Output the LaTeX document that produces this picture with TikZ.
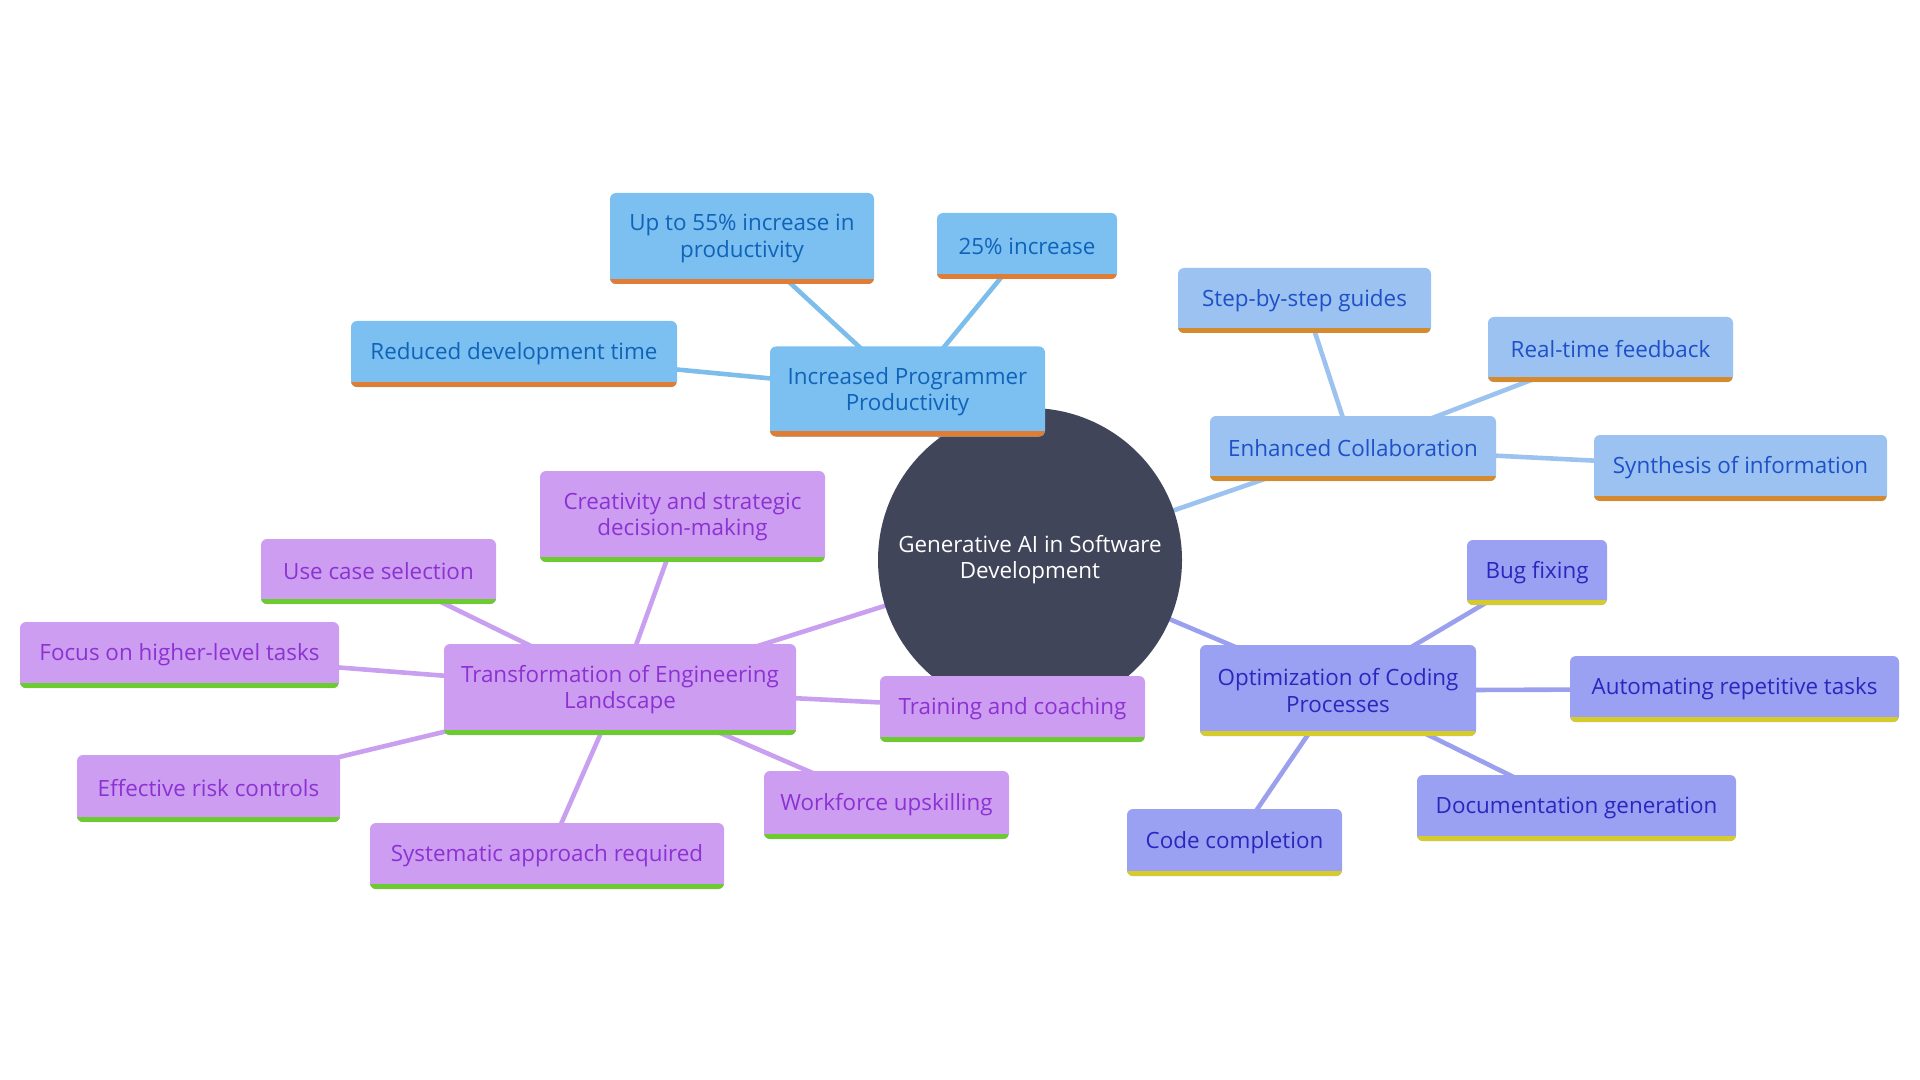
\documentclass[tikz,border=0pt]{standalone}
\usepackage{fontspec}
\setmainfont{Open Sans}
\usetikzlibrary{backgrounds}

\definecolor{rootcol}{HTML}{41455A}
\definecolor{prodfill}{HTML}{7CBFF1}
\definecolor{prodtext}{HTML}{0F63B8}
\definecolor{prodbar}{HTML}{E07D35}
\definecolor{prodline}{HTML}{7DBDEB}
\definecolor{collfill}{HTML}{9BC2F0}
\definecolor{colltext}{HTML}{1E50C8}
\definecolor{collbar}{HTML}{D58A2D}
\definecolor{collline}{HTML}{9CC3EF}
\definecolor{codefill}{HTML}{9AA0F2}
\definecolor{codetext}{HTML}{2828BE}
\definecolor{codebar}{HTML}{D5CB2A}
\definecolor{codeline}{HTML}{9BA0EE}
\definecolor{engfill}{HTML}{CD9DF2}
\definecolor{engtext}{HTML}{8C32D2}
\definecolor{engbar}{HTML}{6CCB2E}
\definecolor{engline}{HTML}{C99FF0}

\tikzset{
  mmbox/.style n args={3}{rectangle, rounded corners=3pt, fill=#1, text=#2, align=center, inner sep=0pt,
    font=\fontsize{11.2}{13.1}\selectfont,
    path picture={\fill[#3, sharp corners] ([yshift=2.6pt]path picture bounding box.south west) rectangle (path picture bounding box.south east);}},
  prodbox/.style={mmbox={prodfill}{prodtext}{prodbar}},
  collbox/.style={mmbox={collfill}{colltext}{collbar}},
  codebox/.style={mmbox={codefill}{codetext}{codebar}},
  engbox/.style={mmbox={engfill}{engtext}{engbar}},
  sz/.style 2 args={minimum width=#1*0.5pt, minimum height=#2*0.5pt},
  prodlink/.style={draw=prodline, line width=2.3pt},
  colllink/.style={draw=collline, line width=2.3pt},
  codelink/.style={draw=codeline, line width=2.3pt},
  englink/.style={draw=engline, line width=2.3pt},
}

\begin{document}
\begin{tikzpicture}[x=0.5pt, y=-0.5pt]
\useasboundingbox (0,0) rectangle (1920,1080);

% Root
\node[circle, fill=rootcol, text=white, align=center, minimum size=152pt, inner sep=0pt,
  font=\fontsize{11.2}{13.1}\selectfont] (root) at (1030,560) {Generative AI in Software\\Development};

% Increased Programmer Productivity
\node[prodbox, sz={275}{90}] (prod) at (907.5,391.5) {Increased Programmer\\Productivity};
\node[prodbox, sz={264}{91}] (prod55) at (742,238.5) {Up to 55\% increase in\\productivity};
\node[prodbox, sz={180}{66}] (prod25) at (1027,246) {25\% increase};
\node[prodbox, sz={326}{66}] (prodtime) at (514,354) {Reduced development time};

% Enhanced Collaboration
\node[collbox, sz={286}{65}] (coll) at (1353,448.5) {Enhanced Collaboration};
\node[collbox, sz={253}{65}] (collguide) at (1304.5,300.5) {Step-by-step guides};
\node[collbox, sz={245}{65}] (collfeed) at (1610.5,349.5) {Real-time feedback};
\node[collbox, sz={293}{66}] (collsynth) at (1740.5,468) {Synthesis of information};

% Optimization of Coding Processes
\node[codebox, sz={276}{91}] (code) at (1338,690.5) {Optimization of Coding\\Processes};
\node[codebox, sz={140}{65}] (codebug) at (1537,572.5) {Bug fixing};
\node[codebox, sz={329}{66}] (codeauto) at (1734.5,689) {Automating repetitive tasks};
\node[codebox, sz={319}{66}] (codedoc) at (1576.5,808) {Documentation generation};
\node[codebox, sz={215}{67}] (codecomp) at (1234.5,842.5) {Code completion};

% Transformation of Engineering Landscape
\node[engbox, sz={352}{91}] (eng) at (620,689.5) {Transformation of Engineering\\Landscape};
\node[engbox, sz={285}{91}] (engcreat) at (682.5,516.5) {Creativity and strategic\\decision-making};
\node[engbox, sz={235}{65}] (enguse) at (378.5,571.5) {Use case selection};
\node[engbox, sz={319}{66}] (engfocus) at (179.5,655) {Focus on higher-level tasks};
\node[engbox, sz={265}{66}] (engtrain) at (1012.5,709) {Training and coaching};
\node[engbox, sz={263}{67}] (engrisk) at (208.5,788.5) {Effective risk controls};
\node[engbox, sz={245}{68}] (engwork) at (886.5,805) {Workforce upskilling};
\node[engbox, sz={354}{66}] (engsys) at (547,856) {Systematic approach required};

% Links
\begin{pgfonlayer}{background}
\draw[prodlink] (root.center) -- (prod.center);
\draw[prodlink] (prod.center) -- (prod55.center);
\draw[prodlink] (prod.center) -- (prod25.center);
\draw[prodlink] (prod.center) -- (prodtime.center);
\draw[colllink] (root.center) -- (coll.center);
\foreach \n in {collguide, collfeed, collsynth}
  \draw[colllink] (coll.center) -- (\n.center);
\draw[codelink] (root.center) -- (code.center);
\foreach \n in {codebug, codeauto, codedoc, codecomp}
  \draw[codelink] (code.center) -- (\n.center);
\draw[englink] (root.center) -- (eng.center);
\foreach \n in {engcreat, enguse, engfocus, engtrain, engrisk, engwork, engsys}
  \draw[englink] (eng.center) -- (\n.center);
\end{pgfonlayer}
\end{tikzpicture}
\end{document}
